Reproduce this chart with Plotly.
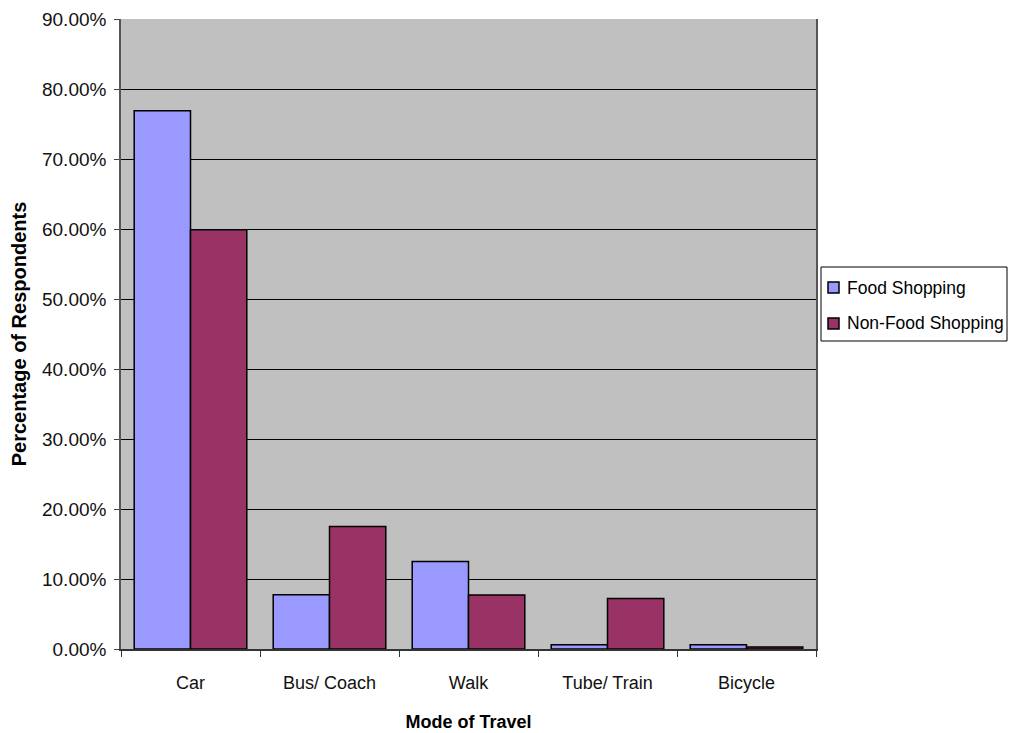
import plotly.graph_objects as go

modes = ["Car", "Bus/ Coach", "Walk", "Tube/ Train", "Bicycle"]
food_shopping = [0.769, 0.0776, 0.125, 0.006, 0.006]
non_food_shopping = [0.599, 0.175, 0.077, 0.072, 0.003]
y_ticks = [0, 0.1, 0.2, 0.3, 0.4, 0.5, 0.6, 0.7, 0.8, 0.9]

series = [
    ("Food Shopping", food_shopping, "#9999FF"),
    ("Non-Food Shopping", non_food_shopping, "#993366"),
]

sans = "Liberation Sans, Arial, sans-serif"
W, H = 1010, 733
ML, MR, MT, MB = 121, 194, 19, 84
PW, PH = W - ML - MR, H - MT - MB


def px_x(x):
    # pixel column -> paper fraction
    return (x - ML) / PW


def px_y(y):
    # pixel row -> paper fraction
    return (H - MB - y) / PH


fig = go.Figure()
for name, vals, color in series:
    fig.add_trace(go.Bar(
        name=name, x=modes, y=vals, showlegend=False,
        marker=dict(color=color, line=dict(color="black", width=1.5)),
    ))

# Boxed key to the right of the plot area
shapes = [dict(type="rect", xref="paper", yref="paper",
               x0=px_x(821), x1=px_x(1007), y0=px_y(341), y1=px_y(267),
               line=dict(color="black", width=1), fillcolor="white", layer="above")]
annotations = []
for i, (name, _, color) in enumerate(series):
    cy = 287.5 + 36 * i
    shapes.append(dict(type="rect", xref="paper", yref="paper",
                       x0=px_x(828), x1=px_x(839), y0=px_y(cy + 5.5), y1=px_y(cy - 5.5),
                       line=dict(color="black", width=1.5), fillcolor=color, layer="above"))
    annotations.append(dict(text=name, xref="paper", yref="paper",
                            x=px_x(845), y=px_y(cy), xanchor="left", yanchor="middle",
                            showarrow=False,
                            font=dict(family=sans, size=17.5, color="black")))

fig.update_layout(
    width=W, height=H,
    margin=dict(l=ML, r=MR, t=MT, b=MB, autoexpand=False),
    paper_bgcolor="white",
    plot_bgcolor="#C0C0C0",
    barmode="group",
    bargap=0.19,
    bargroupgap=0,
    showlegend=False,
    shapes=shapes,
    annotations=annotations,
    xaxis=dict(
        type="category",
        tickson="boundaries",
        ticks="outside", ticklen=6, tickcolor="#333333",
        showline=True, linecolor="#333333", linewidth=1.5, mirror=False,
        tickfont=dict(family=sans, size=18, color="#111111"),
        ticklabelstandoff=17,
        title=dict(text="<b>Mode of Travel</b>", standoff=23,
                   font=dict(family=sans, size=18, color="black")),
        automargin=False,
    ),
    yaxis=dict(
        range=[0, 0.9],
        tickvals=y_ticks,
        tickformat=".2%",
        ticks="outside", ticklen=5, tickcolor="#444444",
        showline=True, linecolor="#555555", linewidth=1.5, mirror=True,
        showgrid=True, gridcolor="black", gridwidth=1,
        zeroline=False,
        tickfont=dict(family=sans, size=19, color="#111111"),
        ticklabelstandoff=4,
        title=dict(text="<b>Percentage of Respondents</b>", standoff=10,
                   font=dict(family=sans, size=20, color="black")),
        automargin=False,
    ),
)

fig.write_html("out.html")
